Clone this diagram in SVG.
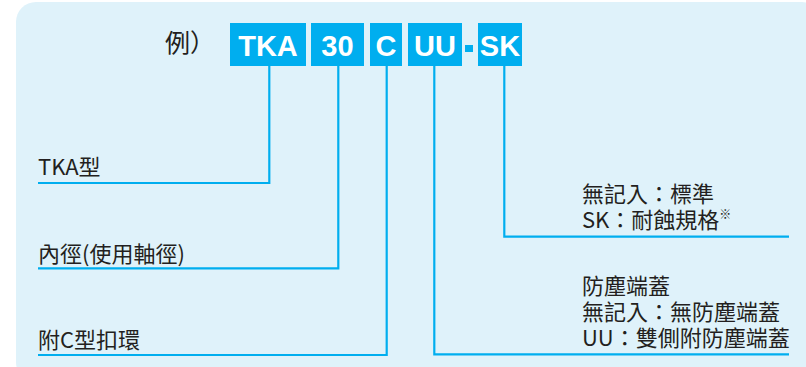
<svg xmlns="http://www.w3.org/2000/svg" width="806" height="367" viewBox="0 0 806 367">
<style>
.bx{fill:#00AEEF}
.bt{fill:#fff;font-family:"Liberation Sans",Arial,sans-serif;font-weight:bold;font-size:29px;text-anchor:middle}
.lb{fill:#231F20;font-family:"Noto Sans CJK TC","Noto Sans",sans-serif;font-size:22px}
.cn{fill:none;stroke:#00AEEF;stroke-width:2.2}
</style>
<rect x="16" y="2" width="806" height="380" rx="20" fill="#DFF2FA"/>
<text class="lb" x="165" y="52" style="font-size:25px">例）</text>
<g id="box-tka"><rect class="bx" x="230" y="23" width="76" height="43"/><text class="bt" x="268" y="56">TKA</text></g>
<g id="box-30"><rect class="bx" x="311" y="23" width="53" height="43"/><text class="bt" x="337.5" y="56">30</text></g>
<g id="box-c"><rect class="bx" x="370" y="23" width="32" height="43"/><text class="bt" x="386" y="56">C</text></g>
<g id="box-uu"><rect class="bx" x="408" y="23" width="54" height="43"/><text class="bt" x="435" y="56">UU</text></g>
<rect id="dash" class="bx" x="465" y="45" width="8" height="7"/>
<g id="box-sk"><rect class="bx" x="478" y="23" width="44" height="43"/><text class="bt" x="500" y="56">SK</text></g>
<g id="connectors">
<polyline class="cn" points="269.3,66 269.3,183 38,183"/>
<polyline class="cn" points="338.3,66 338.3,268.3 38,268.3"/>
<polyline class="cn" points="386.7,66 386.7,355 38,355"/>
<polyline class="cn" points="434.3,66 434.3,354.3 789,354.3"/>
<polyline class="cn" points="504.3,66 504.3,236.7 789,236.7"/>
</g>
<g id="label-tka"><text class="lb" x="38" y="175">TKA型</text></g>
<g id="label-bore"><text class="lb" x="38" y="262">內徑(使用軸徑)</text></g>
<g id="label-c"><text class="lb" x="38" y="348">附C型扣環</text></g>
<g id="label-sk"><text class="lb" x="582" y="202">無記入：標準</text><text class="lb" x="582" y="228">SK：耐蝕規格<tspan style="font-size:12px" dy="-9">※</tspan></text></g>
<g id="label-uu"><text class="lb" x="582" y="294">防塵端蓋</text><text class="lb" x="582" y="320">無記入：無防塵端蓋</text><text class="lb" x="582" y="346">UU：雙側附防塵端蓋</text></g>
</svg>
